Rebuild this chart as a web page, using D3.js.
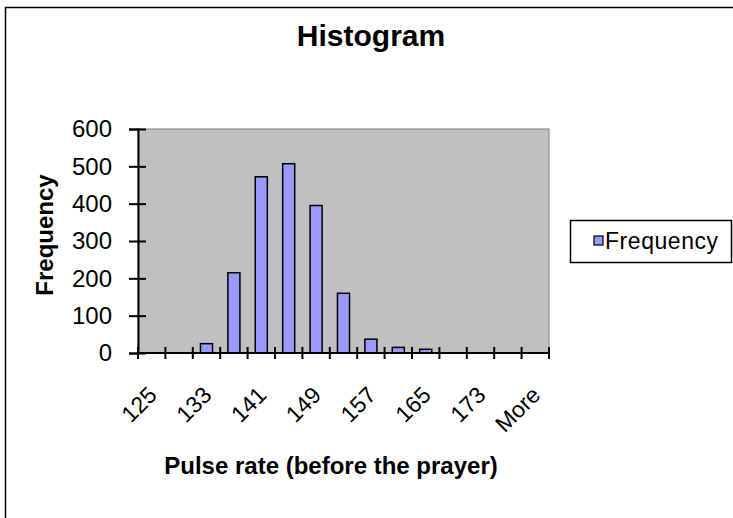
<!DOCTYPE html>
<html lang="en">
<head>
<meta charset="UTF-8">
<title>Histogram</title>
<script src="https://d3js.org/d3.v7.min.js"></script>
<style>
  body { margin: 0; background: #fff; overflow: hidden; }
  text { font-family: "Liberation Sans", Arial, sans-serif; fill: #000; }
</style>
</head>
<body>
<script>
    // data
    var categories = ["125", "129", "133", "137", "141", "145", "149", "153",
                      "157", "161", "165", "169", "173", "177", "More"];
    var frequency = [0, 0, 25, 215, 472, 507, 395, 160, 37, 15, 10, 0, 0, 0, 0];
    var yTicks = [0, 100, 200, 300, 400, 500, 600];
    var shownLabels = ["125", "133", "141", "149", "157", "165", "173", "More"];

    var width = 733, height = 518;
    var plot = { left: 138, right: 549, top: 129, bottom: 353 };

    var svg = d3.select("body").append("svg")
        .attr("width", width)
        .attr("height", height)
        .style("display", "block");

    // outer chart frame: only top and left edges are in the picture
    svg.append("path")
        .attr("d", "M5.5," + height + "V7.5H" + width)
        .attr("fill", "none")
        .attr("stroke", "#000").attr("stroke-width", 1.5);

    var x = d3.scaleBand()
        .domain(categories)
        .range([plot.left, plot.right])
        .padding(0);

    var y = d3.scaleLinear()
        .domain([0, 600])
        .range([plot.bottom, plot.top]);

    // grey plot area
    svg.append("rect")
        .attr("x", plot.left).attr("y", plot.top)
        .attr("width", plot.right - plot.left)
        .attr("height", plot.bottom - plot.top)
        .attr("fill", "#c0c0c0")
        .attr("stroke", "#808080").attr("stroke-width", 1);

    // bars
    var barW = x.bandwidth() * 0.44;
    svg.append("g")
        .selectAll("rect")
        .data(frequency)
        .enter()
        .append("rect")
        .attr("x", function (d, i) { return x(categories[i]) + (x.bandwidth() - barW) / 2; })
        .attr("y", function (d) { return y(d); })
        .attr("width", barW)
        .attr("height", function (d) { return y(0) - y(d); })
        .attr("fill", "#9999ff")
        .attr("stroke", "#000")
        .attr("stroke-width", 1.5)
        .attr("display", function (d) { return d > 0 ? null : "none"; });

    // y axis, ticks cross the line
    var yAxis = svg.append("g")
        .attr("transform", "translate(" + plot.left + ",0)")
        .call(d3.axisLeft(y).tickValues(yTicks).tickSize(9).tickPadding(17));
    yAxis.select(".domain").attr("stroke", "#000").attr("stroke-width", 2);
    yAxis.selectAll(".tick line").attr("x2", -9).attr("x1", 8)
        .attr("stroke", "#000").attr("stroke-width", 2);
    yAxis.selectAll(".tick text")
        .style("font-size", "24px")
        .attr("font-family", "Liberation Sans, Arial, sans-serif");

    // x axis line and boundary ticks
    var bounds = categories.map(function (c) { return x(c); }).concat([plot.right]);
    svg.append("line")
        .attr("x1", plot.left).attr("x2", plot.right)
        .attr("y1", plot.bottom).attr("y2", plot.bottom)
        .attr("stroke", "#000").attr("stroke-width", 2);
    svg.append("g")
        .selectAll("line")
        .data(bounds)
        .enter()
        .append("line")
        .attr("x1", function (d) { return d; })
        .attr("x2", function (d) { return d; })
        .attr("y1", plot.bottom - 6)
        .attr("y2", plot.bottom + 6)
        .attr("stroke", "#000").attr("stroke-width", 2);

    // rotated category labels (every other one)
    svg.append("g")
        .selectAll("text")
        .data(shownLabels)
        .enter()
        .append("text")
        .attr("transform", function (d) {
            return "translate(" + (x(d) + x.bandwidth() / 2 - 5) + "," + (plot.bottom + 32) + ") rotate(-45)";
        })
        .attr("text-anchor", "end")
        .attr("dy", "0.71em")
        .style("font-size", "23px")
        .text(function (d) { return d; });

    // titles
    svg.append("text")
        .attr("x", 371).attr("y", 46)
        .attr("text-anchor", "middle")
        .style("font-size", "30px").style("font-weight", "bold")
        .text("Histogram");

    svg.append("text")
        .attr("x", 331).attr("y", 474)
        .attr("text-anchor", "middle")
        .style("font-size", "24px").style("font-weight", "bold")
        .text("Pulse rate (before the prayer)");

    svg.append("text")
        .attr("transform", "translate(53,235) rotate(-90)")
        .attr("text-anchor", "middle")
        .style("font-size", "24px").style("font-weight", "bold")
        .text("Frequency");

    // legend
    var legend = svg.append("g");
    legend.append("rect")
        .attr("x", 570.5).attr("y", 220.5)
        .attr("width", 161).attr("height", 42)
        .attr("fill", "#fff")
        .attr("stroke", "#000").attr("stroke-width", 1.5);
    legend.append("rect")
        .attr("x", 594).attr("y", 236)
        .attr("width", 9).attr("height", 9)
        .attr("fill", "#9999ff")
        .attr("stroke", "#000").attr("stroke-width", 1.2);
    legend.append("text")
        .attr("x", 605).attr("y", 249)
        .style("font-size", "23px")
        .attr("textLength", 113).attr("lengthAdjust", "spacing")
        .text("Frequency");
</script>
</body>
</html>
